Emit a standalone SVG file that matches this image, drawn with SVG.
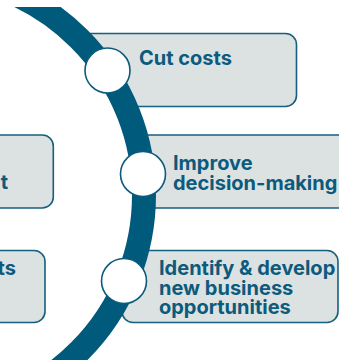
<svg xmlns="http://www.w3.org/2000/svg" width="339" height="360" viewBox="0 0 339 360">
<style>
.box{fill:#dce1e2;stroke:#15607f;stroke-width:1.6}
.lbl{font-family:Inter,"Liberation Sans",sans-serif;font-weight:700;font-size:20px;fill:#0c5a7c}
.dot{fill:#ffffff;stroke:#0c5a7c;stroke-width:1.6}
</style>
<defs>
<clipPath id="clipTop"><rect x="0" y="7" width="339" height="353"/></clipPath>
</defs>
<g id="box-cut-costs"><rect class="box" x="80" y="33.5" width="216.5" height="73" rx="11"/><text class="lbl" x="139" y="65">Cut costs</text></g>
<g id="box-improve"><rect class="box" x="120" y="135" width="240" height="73" rx="11"/><text class="lbl" x="173" y="170">Improve<tspan x="173" y="190">decision-making</tspan></text></g>
<g id="box-identify"><rect class="box" x="122" y="250.5" width="216" height="72" rx="11"/><text class="lbl" x="159" y="275">Identify &amp; develop<tspan x="159" y="295">new business</tspan><tspan x="159" y="314">opportunities</tspan></text></g>
<g id="connectors"><circle cx="-77" cy="195" r="221" fill="#ffffff" stroke="#005a7b" stroke-width="24" clip-path="url(#clipTop)"/></g>
<g id="box-left-1"><rect class="box" x="-100" y="135" width="153.3" height="73" rx="11"/><text class="lbl" x="8" y="189" text-anchor="end">t</text></g>
<g id="box-left-2"><rect class="box" x="-100" y="250.5" width="145" height="72" rx="11"/><text class="lbl" x="16" y="275" text-anchor="end">ts</text></g>
<g id="dot-1"><circle class="dot" cx="107.5" cy="70.5" r="22.5"/></g>
<g id="dot-2"><circle class="dot" cx="143" cy="174" r="22.5"/></g>
<g id="dot-3"><circle class="dot" cx="124" cy="281" r="22.5"/></g>
</svg>
